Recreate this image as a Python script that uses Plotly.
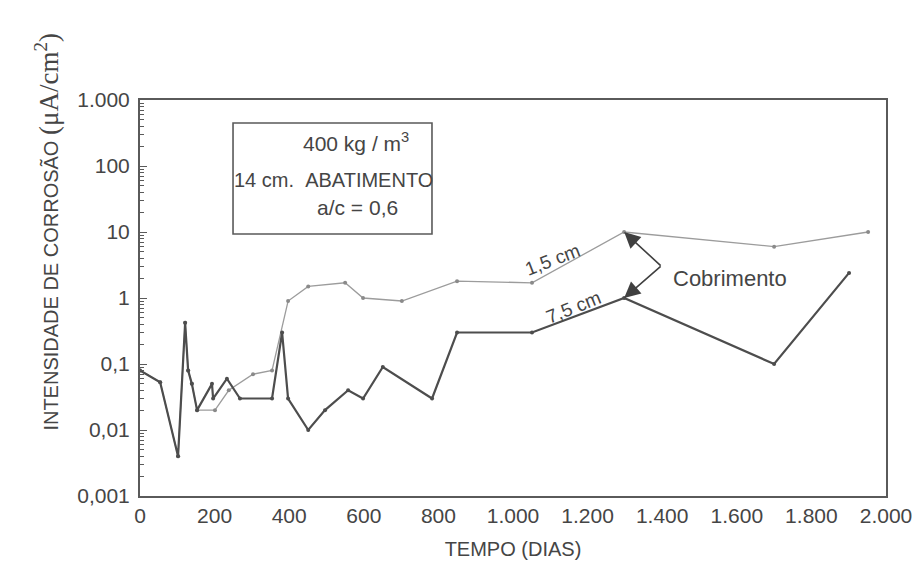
import math
import plotly.graph_objects as go

# Corrosion current density vs. time for two concrete covers
dias_75 = [0, 54, 102, 121, 129, 139, 153, 193, 196, 233, 268, 354, 381, 397,
           451, 496, 558, 598, 651, 783, 850, 1051, 1298, 1700, 1901]
icorr_75 = [0.08, 0.053, 0.004, 0.42, 0.08, 0.05, 0.02, 0.05, 0.03, 0.06, 0.03,
            0.03, 0.3, 0.03, 0.01, 0.02, 0.04, 0.03, 0.09, 0.03, 0.3, 0.3, 1.0,
            0.1, 2.4]

dias_15 = [0, 54, 102, 121, 129, 139, 153, 201, 238, 303, 354, 397, 451, 550,
           598, 702, 850, 1051, 1298, 1700, 1952]
icorr_15 = [0.08, 0.053, 0.004, 0.42, 0.08, 0.05, 0.02, 0.02, 0.04, 0.07, 0.08,
            0.9, 1.5, 1.7, 1.0, 0.9, 1.8, 1.7, 10, 6, 10]

y_tickvals = [0.001, 0.01, 0.1, 1, 10, 100, 1000]
y_ticktext = ["0,001", "0,01", "0,1", "1", "10", "100", "1.000"]
x_tickvals = [0, 200, 400, 600, 800, 1000, 1200, 1400, 1600, 1800, 2000]
x_ticktext = ["0", "200", "400", "600", "800", "1.000", "1.200", "1.400",
              "1.600", "1.800", "2.000"]

SANS = "Liberation Sans, Arial, sans-serif"
TXT = "#454545"
AXIS = "#5a5a5a"

fig = go.Figure()
fig.add_trace(go.Scatter(
    x=dias_15, y=icorr_15, mode="lines+markers",
    line=dict(color="#9c9c9c", width=1.3),
    marker=dict(color="#8a8a8a", size=4),
    showlegend=False, hoverinfo="skip"))
fig.add_trace(go.Scatter(
    x=dias_75, y=icorr_75, mode="lines+markers",
    line=dict(color="#4d4d4d", width=2.2),
    marker=dict(color="#4d4d4d", size=4),
    showlegend=False, hoverinfo="skip"))

fig.update_layout(
    width=919, height=564,
    margin=dict(l=140, r=33, t=100, b=68),
    paper_bgcolor="white", plot_bgcolor="white",
    font=dict(family=SANS, color=TXT, size=21),
    xaxis=dict(
        range=[0, 2000], tickvals=x_tickvals, ticktext=x_ticktext,
        showgrid=False, zeroline=False, showline=True, mirror=True,
        linecolor=AXIS, linewidth=2, ticks="", automargin=False,
        tickfont=dict(size=21, color=TXT),
        title=dict(text="TEMPO (DIAS)", font=dict(size=20, color=TXT), standoff=16),
    ),
    yaxis=dict(
        type="log", range=[-3, 3], tickvals=y_tickvals, ticktext=y_ticktext,
        showgrid=False, zeroline=False, showline=True, mirror=True,
        linecolor=AXIS, linewidth=2, ticks="inside", ticklen=7,
        tickcolor=AXIS, tickwidth=1.2, automargin=False,
        minor=dict(ticks="inside", ticklen=4, tickcolor=AXIS, tickwidth=1,
                   dtick="D1", showgrid=False),
        tickfont=dict(size=21, color=TXT),
        ticklabelstandoff=4,
    ),
)

# Vertical axis title, with the unit set in a serif face
fig.add_annotation(
    xref="paper", yref="paper", x=-0.125, y=0.667,
    text=("INTENSIDADE DE CORROSÃO "
          "<span style=\"font-family:Liberation Serif, Times New Roman, serif;"
          "font-size:27px\">(μA/cm<sup>2</sup>)</span>"),
    textangle=-90, showarrow=False, xanchor="center", yanchor="middle",
    font=dict(size=20, color=TXT, family=SANS))

# Mix description box
fig.add_shape(type="rect", xref="paper", yref="paper",
              x0=0.1247, x1=0.3914, y0=0.6616, y1=0.9419,
              line=dict(color=AXIS, width=1.6), fillcolor="white")
fig.add_annotation(xref="paper", yref="paper", x=0.29, y=0.895,
                   text="400 kg / m<sup>3</sup>", showarrow=False,
                   xanchor="center", yanchor="middle",
                   font=dict(size=21, color=TXT))
fig.add_annotation(xref="paper", yref="paper", x=0.259, y=0.798,
                   text="14 cm.&nbsp;&nbsp;ABATIMENTO", showarrow=False,
                   xanchor="center", yanchor="middle",
                   font=dict(size=20, color=TXT))
fig.add_annotation(xref="paper", yref="paper", x=0.292, y=0.729,
                   text="a/c = 0,6", showarrow=False,
                   xanchor="center", yanchor="middle",
                   font=dict(size=21, color=TXT))

# Cover labels along the curves
fig.add_annotation(x=1107, y=0.586, text="1,5 cm", textangle=-21,
                   showarrow=False, font=dict(size=19, color=TXT))
fig.add_annotation(x=1161, y=-0.142, text="7,5 cm", textangle=-22,
                   showarrow=False, font=dict(size=19, color=TXT))
fig.add_annotation(x=1582, y=0.288, text="Cobrimento", showarrow=False,
                   font=dict(size=22, color=TXT))

# Bracket arrows pointing at both curves
for tip_y, ay in [(math.log10(10), 35), (math.log10(1), -33)]:
    fig.add_annotation(x=1298, y=tip_y, ax=38, ay=ay, text="",
                       showarrow=True, arrowhead=2, arrowsize=2,
                       arrowwidth=1.6, arrowcolor="#404040", standoff=0)

fig.write_html("out.html")
